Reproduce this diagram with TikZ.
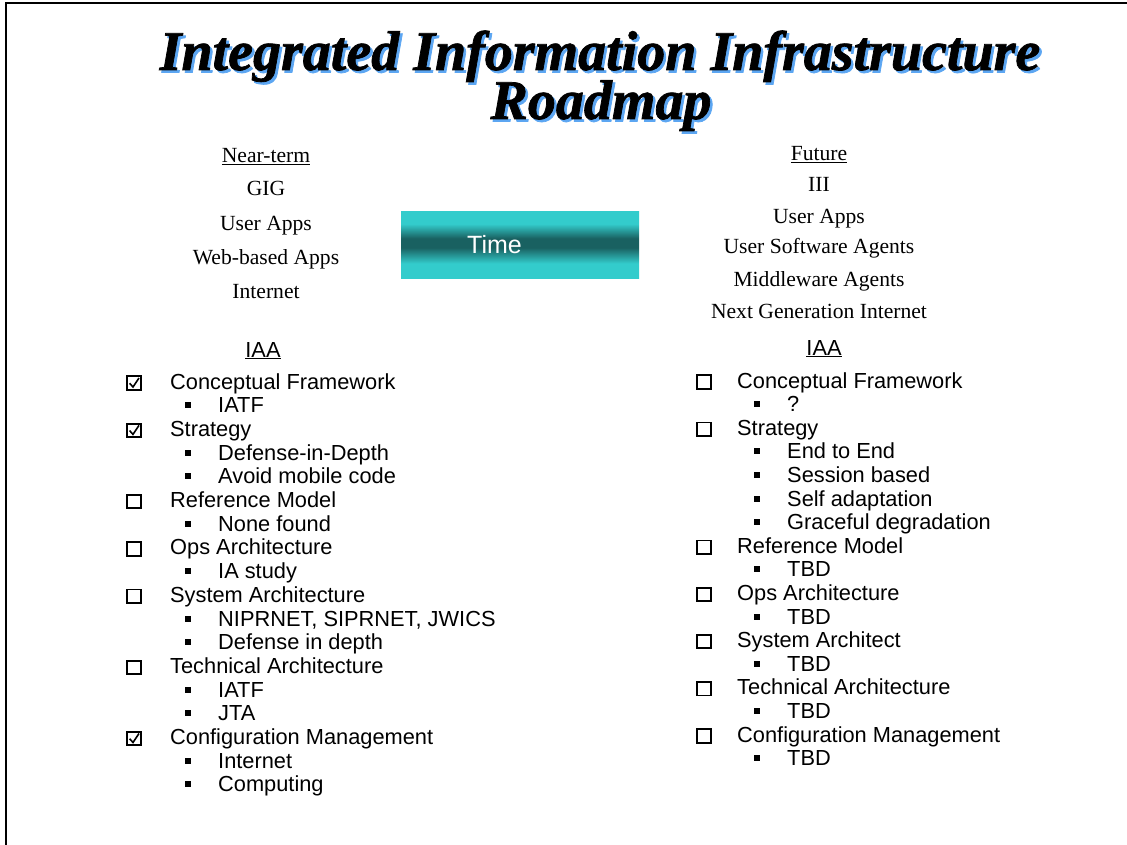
\documentclass[tikz,border=0pt]{standalone}
\usepackage{fontspec}
\setmainfont{Liberation Serif}
\setsansfont{Liberation Sans}
\newfontfamily\titlefont[BoldItalicFeatures={FakeBold=1.3}]{Liberation Serif}

\definecolor{bandlight}{rgb}{0.2,0.8,0.8}
\definecolor{banddark}{rgb}{0.1,0.38,0.38}
\definecolor{titleshadow}{rgb}{0.36,0.65,0.95}

% title text with a light offset shadow behind it
\newcommand{\shadowtext}[1]{\rlap{\kern2.5pt\raisebox{-2.5pt}{\textcolor{titleshadow}{#1}}}#1}

% band shading: the filled path spans 25bp (bottom) to 75bp (top)
\pgfdeclareverticalshading{timeband}{100bp}{%
  color(0bp)=(bandlight); color(25bp)=(bandlight); color(36bp)=(bandlight);
  color(48bp)=(banddark); color(55bp)=(banddark);
  color(66bp)=(bandlight); color(75bp)=(bandlight); color(100bp)=(bandlight)}

\tikzset{
  title/.style={font=\titlefont\bfseries\itshape\fontsize{56}{60}\selectfont, anchor=base, inner sep=0},
  serifline/.style={font=\fontsize{21.6}{24}\selectfont, anchor=base, inner sep=0},
  sansline/.style={font=\sffamily\fontsize{21.8}{24}\selectfont, anchor=base, inner sep=0},
  item/.style={font=\sffamily\fontsize{21.8}{24}\selectfont, anchor=base west, inner sep=0},
  box/.style={draw, line width=1.8, minimum size=13.5, inner sep=0},
  checked/.style={draw, line width=1.7, minimum size=13.5, inner sep=0,
    path picture={\draw[line width=1.6]
      ([shift={(-4.4,0.2)}]path picture bounding box.center) --
      ([shift={(-1,4)}]path picture bounding box.center) --
      ([shift={(5,-5)}]path picture bounding box.center);}},
  bullet/.style={fill=black, minimum size=6, inner sep=0},
}

\begin{document}
\begin{tikzpicture}[x=1pt, y=-1pt]
\useasboundingbox (0,0) rectangle (1127,845);
\fill[white] (0,0) rectangle (1127,845);

% page frame (top and left edges)
\draw[line width=2] (6,845) -- (6,3.5) -- (1127,3.5);

% title
\node[title] (t1) at (600,70) {\shadowtext{Integrated Information Infrastructure}};
\node[title] (t2) at (601,119) {\shadowtext{Roadmap}};

% near-term column
\node[serifline] (nt) at (266,163) {\underline{Near-term}};
\node[serifline] (nt1) at (266,196) {GIG};
\node[serifline] (nt2) at (266,230) {User Apps};
\node[serifline] (nt3) at (266,264) {Web-based Apps};
\node[serifline] (nt4) at (266,298) {Internet};

% future column
\node[serifline] (fu) at (819,161) {\underline{Future}};
\node[serifline] (fu1) at (819,192) {III};
\node[serifline] (fu2) at (819,224) {User Apps};
\node[serifline] (fu3) at (819,254) {User Software Agents};
\node[serifline] (fu4) at (819,286) {Middleware Agents};
\node[serifline] (fu5) at (819,318) {Next Generation Internet};

% time band
\path[shading=timeband] (401,212) rectangle (639,278);
\coordinate (band) at (520,245);
\node[font=\sffamily\fontsize{25}{28}\selectfont, text=white, anchor=base west, inner sep=0]
  (time) at (467,254) {Time};

% IAA headings
\node[sansline] (iaaL) at (263,357) {\underline{IAA}};
\node[sansline] (iaaR) at (824,355) {\underline{IAA}};

% left list
\foreach \i/\s/\t in {0/checked/Conceptual Framework, 2/checked/Strategy,
    5/box/Reference Model, 7/box/Ops Architecture, 9/box/System Architecture,
    12/box/Technical Architecture, 15/checked/Configuration Management} {
  \node[\s] (lbox\i) at (134,{389+23.7*\i-6}) {};
  \node[item] (ltext\i) at (170,{389+23.7*\i}) {\t};
}
\foreach \i/\t in {1/IATF, 3/Defense-in-Depth, 4/Avoid mobile code, 6/None found,
    8/IA study, 10/{NIPRNET, SIPRNET, JWICS}, 11/Defense in depth, 13/IATF,
    14/JTA, 16/Internet, 17/Computing} {
  \node[bullet] (lbul\i) at (188,{389+23.7*\i-7.5}) {};
  \node[item] (lsub\i) at (218,{389+23.7*\i}) {\t};
}

% right list
\foreach \i/\t in {0/Conceptual Framework, 2/Strategy, 7/Reference Model,
    9/Ops Architecture, 11/System Architect, 13/Technical Architecture,
    15/Configuration Management} {
  \node[box] (rbox\i) at (704,{388+23.6*\i-6}) {};
  \node[item] (rtext\i) at (737,{388+23.6*\i}) {\t};
}
\foreach \i/\t in {1/?, 3/End to End, 4/Session based, 5/Self adaptation,
    6/Graceful degradation, 8/TBD, 10/TBD, 12/TBD, 14/TBD, 16/TBD} {
  \node[bullet] (rbul\i) at (757,{388+23.6*\i-7.5}) {};
  \node[item] (rsub\i) at (787,{388+23.6*\i}) {\t};
}
\end{tikzpicture}
\end{document}
